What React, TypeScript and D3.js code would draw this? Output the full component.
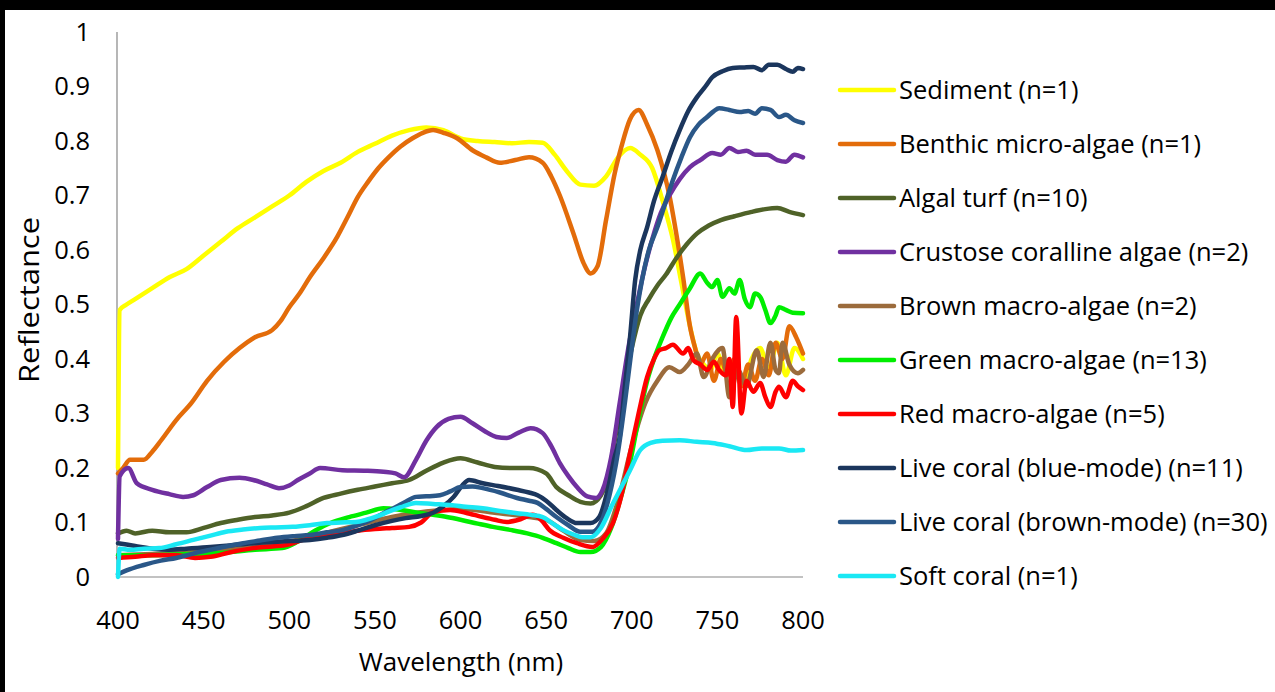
import React from 'react';
import * as d3 from 'd3';

type Pt = [number, number];

const xTicks = [400, 450, 500, 550, 600, 650, 700, 750, 800];
const yTicks = [0, 0.1, 0.2, 0.3, 0.4, 0.5, 0.6, 0.7, 0.8, 0.9, 1];

const sediment: Pt[] = [[400,0.2],[401,0.49],[405,0.5],[410,0.51],[420,0.53],[430,0.55],[440,0.565],[450,0.59],[460,0.615],[470,0.64],[480,0.66],[490,0.68],[500,0.7],[510,0.725],[520,0.745],[530,0.76],[540,0.78],[550,0.795],[560,0.81],[570,0.82],[580,0.825],[590,0.82],[600,0.805],[610,0.8],[620,0.798],[630,0.796],[640,0.798],[648,0.797],[655,0.775],[662,0.745],[670,0.72],[678,0.718],[685,0.735],[692,0.77],[699,0.787],[705,0.775],[712,0.75],[718,0.69],[724,0.62],[729,0.54],[734,0.46],[738,0.41],[742,0.39],[746,0.38],[750,0.41],[755,0.37],[760,0.39],[765,0.35],[770,0.4],[775,0.42],[780,0.38],[785,0.43],[790,0.37],[795,0.42],[800,0.4]];

const benthic: Pt[] = [[400,0.19],[403,0.2],[407,0.215],[415,0.215],[420,0.23],[425,0.25],[434,0.288],[443,0.32],[452,0.36],[462,0.395],[471,0.42],[480,0.44],[490,0.453],[495,0.47],[500,0.495],[506,0.52],[512,0.55],[520,0.585],[528,0.624],[534,0.66],[540,0.697],[546,0.725],[552,0.75],[558,0.77],[565,0.79],[572,0.805],[578,0.815],[584,0.82],[590,0.815],[598,0.805],[607,0.783],[615,0.77],[623,0.76],[632,0.765],[640,0.77],[648,0.76],[653,0.735],[658,0.7],[666,0.63],[672,0.575],[676,0.557],[680,0.57],[685,0.655],[690,0.74],[694,0.79],[699,0.84],[704,0.857],[709,0.83],[715,0.783],[719,0.74],[722,0.7],[726,0.63],[730,0.55],[734,0.46],[737,0.42],[740,0.39],[744,0.41],[748,0.36],[752,0.4],[756,0.37],[760,0.4],[764,0.35],[768,0.39],[772,0.36],[776,0.4],[780,0.37],[784,0.43],[788,0.4],[792,0.46],[796,0.44],[800,0.41]];

const algalTurf: Pt[] = [[400,0.08],[405,0.085],[410,0.08],[420,0.085],[430,0.082],[440,0.082],[450,0.09],[460,0.099],[470,0.105],[480,0.11],[490,0.113],[500,0.118],[510,0.13],[520,0.145],[530,0.153],[540,0.16],[550,0.166],[560,0.172],[570,0.178],[580,0.195],[590,0.21],[600,0.218],[610,0.21],[620,0.202],[630,0.2],[640,0.2],[650,0.19],[656,0.165],[663,0.15],[670,0.138],[676,0.135],[682,0.15],[686,0.18],[690,0.25],[695,0.34],[700,0.42],[705,0.48],[710,0.51],[715,0.535],[720,0.555],[726,0.585],[732,0.61],[738,0.63],[745,0.645],[752,0.655],[760,0.662],[770,0.67],[778,0.675],[785,0.677],[792,0.67],[800,0.664]];

const crustose: Pt[] = [[400,0.07],[401,0.185],[406,0.2],[411,0.172],[420,0.16],[430,0.152],[438,0.147],[444,0.15],[452,0.165],[460,0.178],[471,0.182],[479,0.178],[487,0.17],[494,0.163],[500,0.168],[505,0.178],[512,0.19],[518,0.2],[531,0.196],[545,0.195],[555,0.193],[562,0.19],[567,0.183],[574,0.215],[580,0.25],[586,0.275],[593,0.29],[600,0.294],[607,0.282],[614,0.268],[621,0.257],[627,0.255],[634,0.265],[641,0.273],[648,0.264],[653,0.24],[658,0.209],[663,0.185],[668,0.165],[674,0.148],[679,0.145],[683,0.16],[688,0.22],[693,0.32],[698,0.42],[703,0.5],[707,0.56],[712,0.62],[717,0.668],[722,0.7],[728,0.73],[734,0.752],[740,0.765],[747,0.778],[752,0.775],[757,0.787],[762,0.78],[767,0.782],[772,0.775],[779,0.775],[785,0.765],[790,0.762],[795,0.775],[800,0.77]];

const brownMacro: Pt[] = [[400,0.04],[420,0.042],[440,0.045],[460,0.05],[480,0.055],[500,0.065],[520,0.08],[540,0.095],[560,0.11],[580,0.12],[600,0.125],[620,0.118],[640,0.11],[650,0.105],[660,0.085],[670,0.068],[678,0.066],[685,0.08],[692,0.14],[700,0.24],[708,0.32],[715,0.36],[722,0.385],[728,0.376],[733,0.39],[738,0.41],[742,0.367],[747,0.4],[753,0.42],[757,0.33],[762,0.38],[767,0.35],[773,0.416],[777,0.367],[781,0.43],[784,0.38],[786,0.374],[788,0.43],[792,0.39],[797,0.374],[800,0.38]];

const greenMacro: Pt[] = [[400,0.04],[420,0.04],[440,0.042],[460,0.044],[480,0.05],[496,0.053],[505,0.065],[515,0.085],[524,0.099],[535,0.11],[545,0.118],[555,0.126],[565,0.123],[575,0.118],[584,0.114],[592,0.11],[600,0.105],[610,0.098],[619,0.092],[630,0.086],[639,0.08],[648,0.072],[656,0.062],[663,0.053],[670,0.046],[676,0.046],[682,0.055],[688,0.09],[694,0.15],[699,0.21],[704,0.29],[709,0.36],[713,0.4],[718,0.44],[723,0.475],[728,0.5],[734,0.53],[740,0.557],[744,0.54],[747,0.532],[750,0.545],[753,0.514],[757,0.53],[760,0.52],[763,0.545],[766,0.51],[769,0.495],[772,0.52],[775,0.514],[778,0.49],[781,0.466],[784,0.48],[786,0.495],[790,0.49],[794,0.485],[800,0.484]];

const redMacro: Pt[] = [[400,0.035],[410,0.037],[420,0.04],[434,0.04],[445,0.035],[454,0.037],[465,0.045],[479,0.053],[490,0.056],[499,0.059],[508,0.068],[520,0.075],[530,0.08],[540,0.085],[550,0.088],[560,0.09],[570,0.092],[577,0.1],[584,0.119],[594,0.123],[603,0.118],[613,0.11],[620,0.105],[627,0.101],[635,0.106],[642,0.114],[647,0.105],[652,0.086],[660,0.072],[668,0.062],[677,0.055],[683,0.07],[689,0.099],[694,0.15],[699,0.227],[704,0.3],[709,0.367],[713,0.4],[716,0.416],[720,0.42],[724,0.426],[730,0.41],[733,0.42],[736,0.398],[740,0.39],[744,0.38],[748,0.395],[751,0.38],[755,0.37],[757,0.4],[759,0.312],[761,0.477],[764,0.3],[767,0.36],[771,0.34],[775,0.356],[778,0.33],[781,0.312],[784,0.34],[786,0.349],[790,0.33],[794,0.36],[797,0.35],[800,0.343]];

const liveBlue: Pt[] = [[400,0.062],[410,0.057],[420,0.052],[430,0.05],[440,0.052],[454,0.055],[465,0.058],[479,0.062],[495,0.065],[512,0.068],[522,0.072],[531,0.077],[540,0.085],[550,0.095],[560,0.103],[568,0.108],[577,0.112],[584,0.118],[590,0.13],[596,0.147],[601,0.168],[605,0.178],[613,0.172],[622,0.167],[633,0.16],[640,0.155],[645,0.15],[650,0.14],[656,0.123],[662,0.108],[668,0.099],[676,0.099],[681,0.11],[686,0.16],[690,0.22],[693,0.257],[696,0.35],[699,0.44],[702,0.545],[705,0.6],[709,0.642],[713,0.69],[718,0.734],[723,0.78],[728,0.82],[733,0.855],[738,0.88],[743,0.9],[747,0.917],[753,0.928],[759,0.934],[765,0.935],[771,0.936],[776,0.93],[780,0.94],[785,0.94],[790,0.932],[794,0.927],[797,0.934],[800,0.932]];

const liveBrown: Pt[] = [[400,0.005],[405,0.012],[415,0.022],[425,0.03],[434,0.035],[444,0.043],[454,0.05],[463,0.056],[473,0.062],[483,0.067],[493,0.072],[503,0.075],[512,0.077],[522,0.082],[531,0.086],[540,0.095],[548,0.105],[555,0.117],[562,0.128],[568,0.138],[574,0.147],[580,0.148],[588,0.15],[594,0.157],[600,0.165],[607,0.166],[613,0.163],[623,0.155],[633,0.145],[640,0.14],[645,0.136],[650,0.125],[656,0.11],[663,0.095],[670,0.083],[677,0.083],[682,0.1],[687,0.15],[692,0.23],[696,0.32],[700,0.42],[703,0.49],[706,0.545],[710,0.6],[715,0.642],[720,0.69],[724,0.728],[729,0.77],[734,0.807],[739,0.83],[744,0.844],[748,0.855],[751,0.86],[757,0.857],[763,0.853],[768,0.855],[772,0.85],[776,0.86],[781,0.857],[786,0.844],[790,0.848],[795,0.838],[800,0.833]];

const softCoral: Pt[] = [[400,0.0],[401,0.052],[407,0.05],[415,0.052],[424,0.053],[434,0.06],[444,0.068],[454,0.076],[463,0.083],[473,0.087],[483,0.09],[492,0.091],[502,0.092],[512,0.095],[522,0.099],[530,0.1],[539,0.101],[545,0.105],[552,0.112],[558,0.12],[565,0.128],[574,0.136],[584,0.134],[594,0.132],[603,0.129],[613,0.126],[623,0.121],[633,0.117],[641,0.114],[648,0.11],[654,0.098],[660,0.086],[666,0.078],[671,0.073],[676,0.073],[682,0.09],[689,0.135],[694,0.165],[699,0.196],[705,0.233],[711,0.246],[718,0.25],[728,0.251],[738,0.248],[747,0.246],[757,0.24],[767,0.233],[776,0.236],[786,0.236],[793,0.232],[800,0.233]];

const series = [
  { name: 'Sediment (n=1)', color: '#ffff00', data: sediment },
  { name: 'Benthic micro-algae (n=1)', color: '#e36c0a', data: benthic },
  { name: 'Algal turf (n=10)', color: '#4f6228', data: algalTurf },
  { name: 'Crustose coralline algae (n=2)', color: '#7030a0', data: crustose },
  { name: 'Brown macro-algae (n=2)', color: '#9b6b3c', data: brownMacro },
  { name: 'Green macro-algae (n=13)', color: '#00ee00', data: greenMacro },
  { name: 'Red macro-algae (n=5)', color: '#ff0000', data: redMacro },
  { name: 'Live coral (blue-mode) (n=11)', color: '#1b365d', data: liveBlue },
  { name: 'Live coral (brown-mode) (n=30)', color: '#2a5788', data: liveBrown },
  { name: 'Soft coral (n=1)', color: '#1ae8f4', data: softCoral },
];

const W = 1275;
const H = 692;
const font = "'Open Sans', sans-serif";
const fs = 25.5;

export default function App() {
  const x = d3.scaleLinear().domain([400, 800]).range([118, 803]);
  const y = d3.scaleLinear().domain([0, 1]).range([577, 32]);
  const line = d3
    .line<Pt>()
    .x((d) => x(d[0]))
    .y((d) => y(d[1]))
    .curve(d3.curveMonotoneX);
  const legendY = d3.scaleLinear().domain([0, 9]).range([90, 576]);

  return (
    <svg
      width={W}
      height={H}
      style={{ position: 'absolute', left: 0, top: 0 }}
      fontFamily={font}
    >
      <rect width={W} height={H} fill='#000' />
      <rect x={5} y={10} width={W - 5} height={H - 10} fill='#fff' />
      <line x1={117} x2={117} y1={y(1)} y2={y(0)} stroke='#868686' strokeWidth={1.2} />
      <line x1={117} x2={x(800)} y1={y(0)} y2={y(0)} stroke='#868686' strokeWidth={1.2} />
      {yTicks.map((t) => (
        <text key={t} x={90} y={y(t)} dy='0.35em' textAnchor='end' fontSize={fs} fill='#000'>
          {d3.format('~g')(t)}
        </text>
      ))}
      {xTicks.map((t) => (
        <text key={t} x={x(t)} y={620} dy='0.35em' textAnchor='middle' fontSize={fs} fill='#000'>
          {t}
        </text>
      ))}
      <text x={461} y={662} dy='0.35em' textAnchor='middle' fontSize={26} fill='#000'>
        Wavelength (nm)
      </text>
      <text
        transform={`translate(30,300) rotate(-90)`}
        dy='0.35em'
        textAnchor='middle'
        fontSize={27}
        textLength={166}
        lengthAdjust='spacingAndGlyphs'
        fill='#000'
      >
        Reflectance
      </text>
      <g fill='none' strokeWidth={4.5} strokeLinejoin='round' strokeLinecap='round'>
        {series.map((s) => (
          <path key={s.name} d={line(s.data) ?? ''} stroke={s.color} />
        ))}
      </g>
      {series.map((s, i) => (
        <g key={s.name} transform={`translate(0,${legendY(i)})`}>
          <line x1={840} x2={894} stroke={s.color} strokeWidth={4.5} strokeLinecap='round' />
          <text x={899} dy='0.35em' fontSize={fs} fill='#000'>
            {s.name}
          </text>
        </g>
      ))}
    </svg>
  );
}
